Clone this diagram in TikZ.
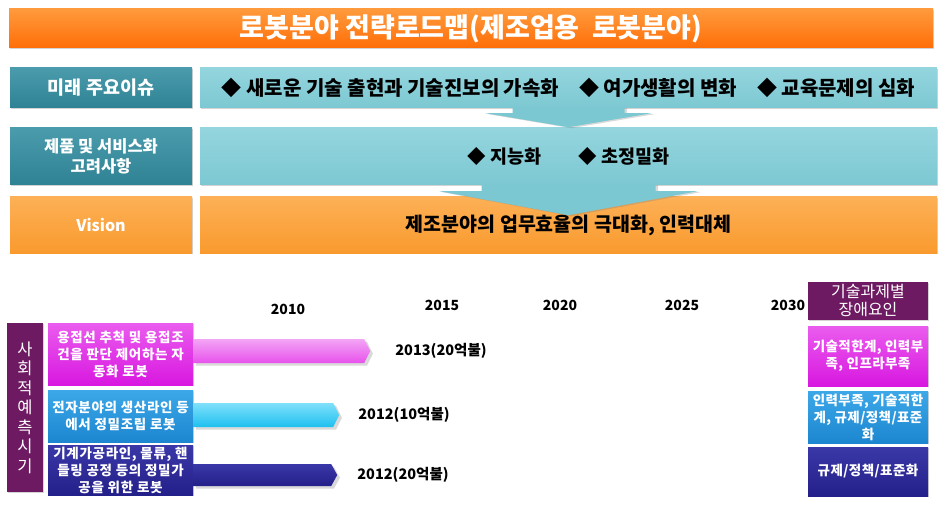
\documentclass[tikz,border=0pt]{standalone}
\usepackage{fontspec}
\setmainfont{Noto Sans CJK KR}
\usetikzlibrary{positioning, calc, shadows}

\definecolor{titleorange}{HTML}{FF6E08}
\definecolor{titleorangelt}{HTML}{FF9A3C}
\definecolor{visionorange}{HTML}{F99A2E}
\definecolor{visionorangelt}{HTML}{FDB056}
\definecolor{tealdark}{HTML}{2F8293}
\definecolor{tealdarklt}{HTML}{4A9CAD}
\definecolor{teallight}{HTML}{7CC8D2}
\definecolor{teallightlt}{HTML}{94D5DE}
\definecolor{eraplum}{HTML}{6E1A62}
\definecolor{weldpink}{HTML}{D818E0}
\definecolor{weldpinklt}{HTML}{EA5CEE}
\definecolor{assemblyblue}{HTML}{1C86D0}
\definecolor{assemblybluelt}{HTML}{3CA8E8}
\definecolor{cyanbar}{HTML}{1EC0F0}
\definecolor{cyanbarlt}{HTML}{80E0FA}
\definecolor{navyrobot}{HTML}{24208A}
\definecolor{navyrobotlt}{HTML}{3A38A8}

\begin{document}
\begin{tikzpicture}[
    x=1pt, y=-1pt,
    box/.style={
        rectangle,
        inner sep=2pt,
        align=center,
        text=white,
        drop shadow={shadow xshift=1.2pt, shadow yshift=-1.2pt, opacity=0.35}
    },
    headbox/.style={box, minimum width=182pt, top color=tealdarklt, bottom color=tealdark},
    widebox/.style={box, minimum width=737pt, top color=teallightlt, bottom color=teallight, text=black},
    robotbox/.style={box, minimum width=145pt, inner sep=1pt,
        font=\fontsize{13.5}{17}\selectfont\bfseries\addfontfeature{LetterSpace=5}},
    barrierbox/.style={box, minimum width=120pt, inner sep=1pt,
        font=\fontsize{13.5}{17}\selectfont\bfseries\addfontfeature{LetterSpace=3}},
    yearlabel/.style={font=\fontsize{14}{16}\selectfont\bfseries, inner sep=0pt},
    marketlabel/.style={font=\fontsize{14.5}{16}\selectfont\bfseries, inner sep=0pt}
]
\useasboundingbox (0,0) rectangle (942,505);

% title
\node[box, minimum width=924pt, minimum height=39pt, top color=titleorangelt, bottom color=titleorange,
    font=\fontsize{27}{30}\selectfont\bfseries] (title) at (471,28.5) {로봇분야 전략로드맵(제조업용~~로봇분야)};

% three rows
\node[headbox, minimum height=40pt, font=\fontsize{18.5}{20}\selectfont\bfseries] (issue) at (101,88) {미래 주요이슈};
\node[widebox, minimum height=40pt, font=\fontsize{20}{22}\selectfont\bfseries] (issuetext) at (568.5,88)
    {◆ 새로운 기술 출현과 기술진보의 가속화\quad ◆ 여가생활의 변화\quad ◆ 교육문제의 심화};

\node[headbox, minimum height=57pt, font=\fontsize{16.5}{20}\selectfont\bfseries] (product) at (101,156.5) {제품 및 서비스화\\고려사항};
\node[widebox, minimum height=57pt, font=\fontsize{18.5}{22}\selectfont\bfseries] (producttext) at (568.5,156.5) {◆ 지능화\qquad ◆ 초정밀화};

\fill[teallight, drop shadow={shadow yshift=-1pt, opacity=0.3}]
    ($(issuetext.south)+(-56,-1)$) -- ++(0,6) -- ++(-27,0) -- ++(83,14) -- ++(83,-14) -- ++(-27,0) -- ++(0,-6) -- cycle;

\node[box, minimum width=182pt, minimum height=56pt, top color=visionorangelt, bottom color=visionorange,
    font=\fontsize{16}{18}\selectfont\bfseries] (vision) at (101,225) {Vision};
\node[box, minimum width=737pt, minimum height=56pt, top color=visionorangelt, bottom color=visionorange,
    text=black, font=\fontsize{19.5}{22}\selectfont\bfseries] (visiontext) at (568.5,225) {제조분야의 업무효율의 극대화, 인력대체};

\fill[teallight, drop shadow={shadow yshift=-1pt, opacity=0.3}]
    ($(producttext.south)+(-87,-1)$) -- ++(0,7) -- ++(-42,0) -- ++(129,24) -- ++(129,-24) -- ++(-42,0) -- ++(0,-7) -- cycle;

% timeline years
\node[yearlabel] (y2010) at (288,309) {2010};
\node[yearlabel] (y2015) at (442,305) {2015};
\node[yearlabel] (y2020) at (560,305) {2020};
\node[yearlabel] (y2025) at (682,305) {2025};
\node[yearlabel] (y2030) at (788,305) {2030};

% forecast rows
\node[box, minimum width=36pt, minimum height=169pt, fill=eraplum,
    font=\fontsize{16.5}{19.5}\selectfont] (era) at (25,407.5) {사\\회\\적\\예\\측\\시\\기};

\node[robotbox, minimum height=62pt, top color=weldpinklt, bottom color=weldpink] (weld) at (120.5,354)
    {용접선 추척 및 용접조\\건을 판단 제어하는 자\\동화 로봇};
\node[robotbox, minimum height=52pt, top color=assemblybluelt, bottom color=assemblyblue] (assembly) at (120.5,416)
    {전자분야의 생산라인 등\\에서 정밀조립 로봇};
\node[robotbox, minimum height=50pt, top color=navyrobotlt, bottom color=navyrobot] (machining) at (120.5,470)
    {기계가공라인, 물류, 핸\\들링 공정 등의 정밀가\\공을 위한 로봇};

\coordinate (weldtip) at ($(weld.east)+(177,-3)$);
\coordinate (assemblytip) at ($(assembly.east)+(146,-1)$);
\coordinate (machiningtip) at ($(machining.east)+(144,5)$);

\shade[top color=weldpinklt!55!white, bottom color=weldpinklt!85!weldpink, drop shadow={opacity=0.3}]
    ($(weld.east)+(0,-15)$) -- ($(weldtip)+(-6,-12)$) -- (weldtip) -- ($(weldtip)+(-6,12)$) -- ($(weld.east)+(0,9)$) -- cycle;
\shade[top color=cyanbarlt, bottom color=cyanbar, drop shadow={opacity=0.3}]
    ($(assembly.east)+(0,-13)$) -- ($(assemblytip)+(-6,-12)$) -- (assemblytip) -- ($(assemblytip)+(-6,12)$) -- ($(assembly.east)+(0,11)$) -- cycle;
\shade[top color=navyrobotlt, bottom color=navyrobot, drop shadow={opacity=0.3}]
    ($(machining.east)+(0,-6)$) -- ($(machiningtip)+(-6,-11)$) -- (machiningtip) -- ($(machiningtip)+(-6,11)$) -- ($(machining.east)+(0,16)$) -- cycle;

\node[marketlabel, right=25pt of weldtip] (weldmarket) {2013(20억불)};
\node[marketlabel, right=19pt of assemblytip] (assemblymarket) {2012(10억불)};
\node[marketlabel, right=20pt of machiningtip] (machiningmarket) {2012(20억불)};

% barriers per task
\node[barrierbox, minimum height=38pt, fill=eraplum, font=\fontsize{16}{18}\selectfont] (barrier) at (868,301) {기술과제별\\장애요인};
\node[barrierbox, minimum height=60pt, top color=weldpinklt, bottom color=weldpink] (barrierweld) at (868,356)
    {기술적한계, 인력부\\족, 인프라부족};
\node[barrierbox, minimum height=52pt, top color=assemblybluelt, bottom color=assemblyblue] (barrierassembly) at (868,417)
    {인력부족, 기술적한\\계, 규제/정책/표준\\화};
\node[barrierbox, minimum height=49pt, top color=navyrobotlt, bottom color=navyrobot] (barriermachining) at (868,471.5)
    {규제/정책/표준화};

\end{tikzpicture}
\end{document}
